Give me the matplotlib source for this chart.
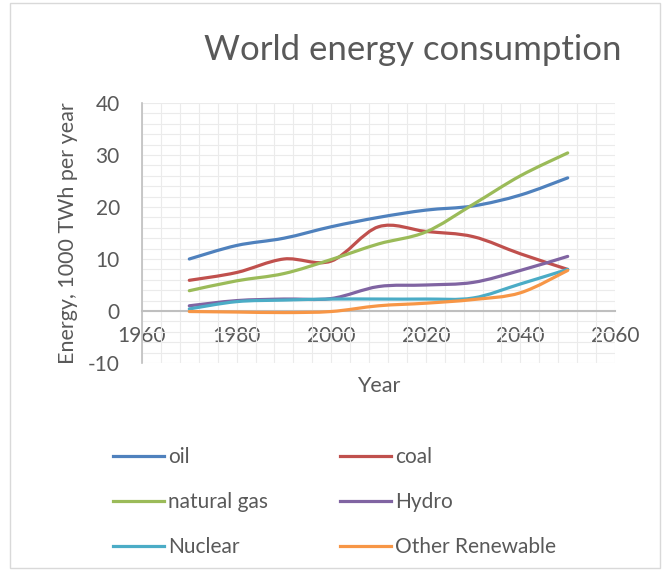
import matplotlib
matplotlib.use("Agg")
import matplotlib.pyplot as plt
from matplotlib.path import Path
from matplotlib.patches import PathPatch, Rectangle
from matplotlib.lines import Line2D
from matplotlib.ticker import MultipleLocator

plt.rcParams['font.family'] = ['Lato', 'DejaVu Sans']
plt.rcParams['axes.unicode_minus'] = False

# ---- data ----
years = [1970, 1980, 1990, 2000, 2010, 2020, 2030, 2040, 2050]
oil = [10, 12.6, 14, 16.2, 18, 19.4, 20.2, 22.3, 25.6]
coal = [5.9, 7.4, 10, 9.6, 16.2, 15.3, 14.3, 11, 8]
natural_gas = [3.9, 5.8, 7.2, 9.9, 12.9, 15.2, 20.5, 26, 30.4]
hydro = [1, 2, 2.3, 2.4, 4.7, 5, 5.5, 7.8, 10.5]
nuclear = [0.4, 1.8, 2.1, 2.3, 2.3, 2.3, 2.5, 5.2, 8]
other_renewable = [-0.1, -0.2, -0.3, -0.1, 1, 1.5, 2.2, 3.5, 7.8]

series_names = ["oil", "coal", "natural gas", "Hydro", "Nuclear", "Other Renewable"]
series_values = [oil, coal, natural_gas, hydro, nuclear, other_renewable]
colors = ["#4F81BD", "#C0504D", "#9BBB59", "#8064A2", "#4BACC6", "#F79646"]

title = "World energy consumption"
xlabel = "Year"
ylabel = "Energy, 1000 TWh per year"
xticks = [1960, 1980, 2000, 2020, 2040, 2060]
yticks = [-10, 0, 10, 20, 30, 40]

TXT = "#595959"


def smooth_path(xs, ys):
    """Excel-like smoothed line as cubic Bezier path through the data points."""
    pts = list(zip(xs, ys))
    n = len(pts)
    verts = [pts[0]]
    codes = [Path.MOVETO]
    for i in range(n - 1):
        p0 = pts[i - 1] if i > 0 else pts[i]
        p1 = pts[i]
        p2 = pts[i + 1]
        p3 = pts[i + 2] if i + 2 < n else pts[i + 1]
        c1 = (p1[0] + (p2[0] - p0[0]) / 6.0, p1[1] + (p2[1] - p0[1]) / 6.0)
        c2 = (p2[0] - (p3[0] - p1[0]) / 6.0, p2[1] - (p3[1] - p1[1]) / 6.0)
        verts += [c1, c2, p2]
        codes += [Path.CURVE4] * 3
    return Path(verts, codes)


fig = plt.figure(figsize=(6.72, 5.79), dpi=100)
fig.patch.set_facecolor("white")
fig.patches.append(Rectangle((10 / 672, 1 - 568 / 579), 650 / 672, 565 / 579,
                             transform=fig.transFigure, fill=False,
                             edgecolor="#D9D9D9", lw=1.0))

ax = fig.add_axes([142 / 672, 1 - 363 / 579, 473 / 672, 260 / 579])
ax.set_xlim(1960, 2060)
ax.set_ylim(-10, 40)
ax.set_xticks(xticks)
ax.set_yticks(yticks)
ax.xaxis.set_minor_locator(MultipleLocator(4))
ax.yaxis.set_minor_locator(MultipleLocator(2))
ax.grid(which="both", color="#EBEBEB", lw=0.8)
ax.set_axisbelow(True)

for s in ["top", "right"]:
    ax.spines[s].set_visible(False)
ax.spines["left"].set_color("#BFBFBF")
ax.spines["bottom"].set_color("#BFBFBF")
ax.spines["bottom"].set_position(("data", 0))
ax.spines["left"].set_linewidth(1.2)
ax.spines["bottom"].set_linewidth(1.5)

ax.tick_params(which="both", length=0, colors=TXT, labelsize=15)
ax.tick_params(axis="x", pad=11)
ax.tick_params(axis="y", pad=16)

handles = []
for name, vals, c in zip(series_names, series_values, colors):
    patch = PathPatch(smooth_path(years, vals), transform=ax.transData,
                      fill=False, edgecolor=c, lw=2.3, capstyle="round",
                      joinstyle="round", zorder=3)
    ax.add_patch(patch)
    handles.append(Line2D([], [], color=c, lw=2.3, label=name))

ax.set_xlabel(xlabel, fontsize=15.5, color=TXT)
ax.xaxis.set_label_coords(0.5, -0.05)
ax.set_ylabel(ylabel, fontsize=15.5, color=TXT)
ax.yaxis.set_label_coords(-0.135, 0.5)

fig.text(413 / 672, 1 - 50 / 579, title, ha="center", va="center",
         fontsize=25, color=TXT)

leg_kw = dict(frameon=False, fontsize=15, handlelength=2.45, handletextpad=0.2,
              labelspacing=1.2, borderpad=0, borderaxespad=0, loc="center left",
              labelcolor=TXT)
fig.legend(handles=[handles[0], handles[2], handles[4]],
           bbox_to_anchor=(113 / 672, 1 - 502 / 579), **leg_kw)
fig.legend(handles=[handles[1], handles[3], handles[5]],
           bbox_to_anchor=(340 / 672, 1 - 502 / 579), **leg_kw)

fig.savefig("out.png", dpi=100)
